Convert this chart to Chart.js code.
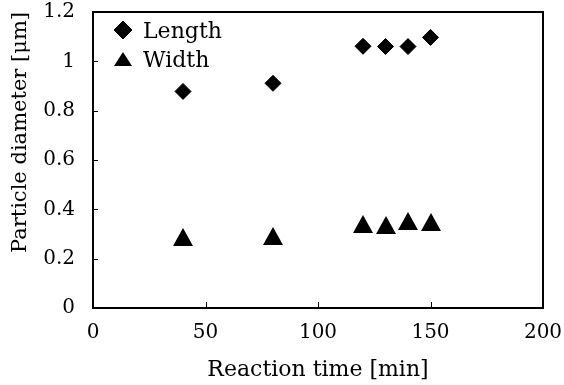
<!DOCTYPE html>
<html>
<head>
<meta charset="utf-8">
<title>Particle diameter vs reaction time</title>
<script src="https://cdn.jsdelivr.net/npm/chart.js@4.4.1/dist/chart.umd.min.js"></script>
<style>
  html, body { margin: 0; padding: 0; background: #fff; }
  #wrap { width: 564px; height: 385px; }
</style>
</head>
<body>
<div id="wrap"><canvas id="sizeChart" width="564" height="385"></canvas></div>
<script>
// ---- Data ----
const reactionTime = [40, 80, 120, 130, 140, 150];          // min
const lengthValues = [0.878, 0.911, 1.061, 1.06, 1.06, 1.097]; // um
const widthValues = [0.286, 0.293, 0.339, 0.337, 0.352, 0.347]; // um
const xTicks = [0, 50, 100, 150, 200];
const yTicks = [0, 0.2, 0.4, 0.6, 0.8, 1, 1.2];
const seriesNames = ['Length', 'Width'];

const FONT = "'DejaVu Serif', serif";

function toPoints(xs, ys) {
  return xs.map((x, i) => ({ x: x, y: ys[i] }));
}

// Triangle marker centred on its bounding box (like the spreadsheet one),
// Chart.js' own triangle sits on its centroid instead
function makeTriangle(w, h) {
  const c = document.createElement('canvas');
  c.width = w;
  c.height = h;
  const g = c.getContext('2d');
  g.fillStyle = '#000';
  g.beginPath();
  g.moveTo(w / 2, 0);
  g.lineTo(w, h);
  g.lineTo(0, h);
  g.closePath();
  g.fill();
  return c;
}
const triMarker = makeTriangle(20, 18);
const triLegend = makeTriangle(18, 14);

// scales add their own room for overflowing labels; we want the plot box fixed
function noScalePadding(s) {
  s.paddingTop = 0;
  s.paddingBottom = 0;
  s.paddingLeft = 0;
  s.paddingRight = 0;
}

// keep image markers crisp at fractional positions
const crispImages = {
  id: 'crispImages',
  beforeDatasetsDraw(chart) { chart.ctx.imageSmoothingEnabled = false; },
  afterDatasetsDraw(chart) { chart.ctx.imageSmoothingEnabled = true; }
};

// Draws the plot frame, inward tick marks and the in-plot legend
const frameAndLegend = {
  id: 'frameAndLegend',
  afterDraw(chart) {
    const ctx = chart.ctx;
    const area = chart.chartArea;
    const xs = chart.scales.x;
    const ys = chart.scales.y;

    ctx.save();
    ctx.strokeStyle = '#000';
    ctx.lineWidth = 2;
    ctx.strokeRect(area.left, area.top, area.right - area.left, area.bottom - area.top);

    ctx.lineWidth = 1;
    ctx.beginPath();
    xTicks.slice(1, -1).forEach(v => {
      const px = Math.round(xs.getPixelForValue(v)) + 0.5;
      ctx.moveTo(px, area.bottom);
      ctx.lineTo(px, area.bottom - 6);
    });
    yTicks.slice(1, -1).forEach(v => {
      const py = Math.round(ys.getPixelForValue(v)) + 0.5;
      ctx.moveTo(area.left, py);
      ctx.lineTo(area.left + 5, py);
    });
    ctx.stroke();

    // legend inside the plot, top-left
    const lx = Math.round(area.left + 30);
    ctx.fillStyle = '#000';
    ctx.font = '22px ' + FONT;
    ctx.textBaseline = 'alphabetic';

    Chart.helpers.drawPoint(ctx, {
      pointStyle: 'rectRot', radius: 9, rotation: 0, borderWidth: 1
    }, lx, area.top + 18);
    ctx.fill();
    ctx.fillText(chart.data.datasets[0].label, area.left + 50, area.top + 26);

    ctx.drawImage(triLegend, lx - triLegend.width / 2, area.top + 40);
    ctx.fillText(chart.data.datasets[1].label, area.left + 50, area.top + 55);
    ctx.restore();
  }
};

const chart = new Chart(document.getElementById('sizeChart'), {
  type: 'scatter',
  data: {
    datasets: [
      {
        label: seriesNames[0],
        data: toPoints(reactionTime, lengthValues),
        pointStyle: 'rectRot',
        pointRadius: 8,
        pointHoverRadius: 8,
        backgroundColor: '#000',
        borderColor: '#000',
        borderWidth: 1
      },
      {
        label: seriesNames[1],
        data: toPoints(reactionTime, widthValues),
        pointStyle: triMarker,
        pointRadius: 10,
        pointHoverRadius: 10,
        backgroundColor: '#000',
        borderColor: '#000',
        borderWidth: 0
      }
    ]
  },
  options: {
    responsive: false,
    devicePixelRatio: 1,
    animation: false,
    layout: { padding: { top: 12, right: 21, bottom: 0, left: 0 } },
    plugins: {
      legend: { display: false },
      tooltip: { enabled: false }
    },
    scales: {
      x: {
        type: 'linear',
        min: 0,
        max: 200,
        afterBuildTicks: s => { s.ticks = xTicks.map(v => ({ value: v })); },
        afterFit: s => { s.height = 77; noScalePadding(s); },
        grid: { display: false, drawTicks: false },
        border: { display: false },
        ticks: {
          color: '#000',
          font: { family: FONT, size: 20 },
          padding: 13,
          maxRotation: 0,
          callback: v => String(v)
        },
        title: {
          display: true,
          text: 'Reaction time [min]',
          color: '#000',
          font: { family: FONT, size: 22 },
          padding: { top: 0, bottom: 2 }
        }
      },
      y: {
        type: 'linear',
        min: 0,
        max: 1.2,
        afterBuildTicks: s => { s.ticks = yTicks.map(v => ({ value: v })); },
        afterFit: s => { s.width = 93; noScalePadding(s); },
        grid: { display: false, drawTicks: false },
        border: { display: false },
        ticks: {
          color: '#000',
          font: { family: FONT, size: 20 },
          padding: 18,
          callback: v => String(v)
        },
        title: {
          display: true,
          text: 'Particle diameter [\u03bcm]',
          color: '#000',
          align: 'end',
          font: { family: FONT, size: 21 },
          padding: { top: 8, bottom: 0 }
        }
      }
    }
  },
  plugins: [crispImages, frameAndLegend]
});
</script>
</body>
</html>
